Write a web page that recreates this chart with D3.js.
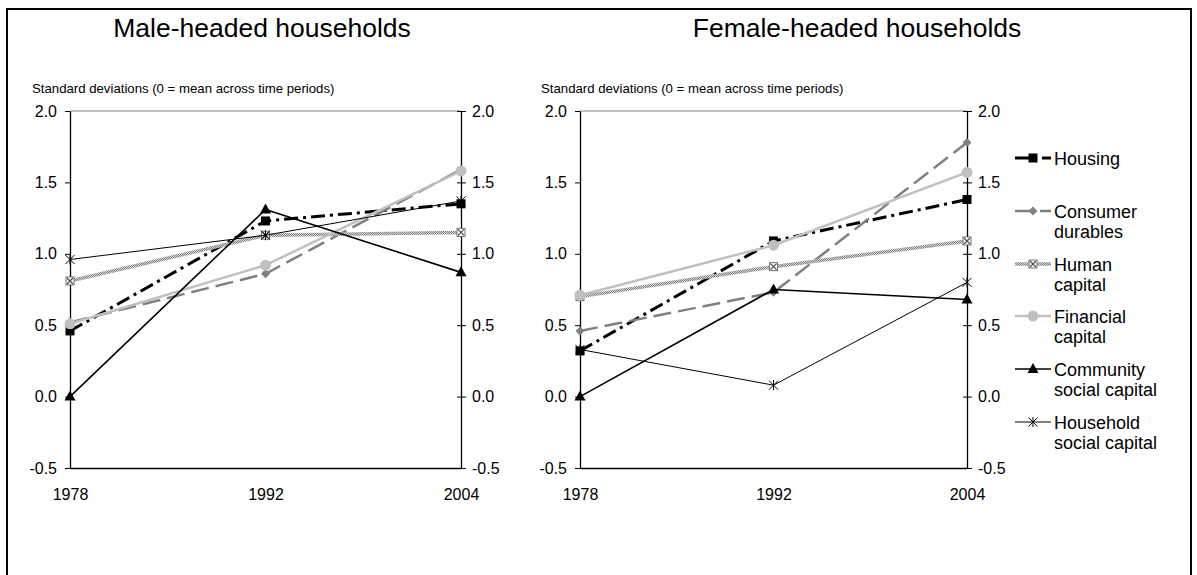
<!DOCTYPE html>
<html>
<head>
<meta charset="utf-8">
<script src="https://cdn.jsdelivr.net/npm/d3@7"></script>
<style>
  html, body { margin: 0; padding: 0; background: #fff; }
  svg { display: block; font-family: "Liberation Sans", Arial, sans-serif; }
</style>
</head>
<body>
<svg id="chart" width="1197" height="575"></svg>
<script>
// ---------------- data ----------------
const years = ["1978", "1992", "2004"];
const yTicks = [-0.5, 0.0, 0.5, 1.0, 1.5, 2.0];
const seriesNames = ["Housing", "Consumer durables", "Human capital", "Financial capital",
  "Community social capital", "Household social capital"];
const legendLabels = [["Housing"], ["Consumer", "durables"], ["Human", "capital"],
  ["Financial", "capital"], ["Community", "social capital"], ["Household", "social capital"]];
const panelTitles = ["Male-headed households", "Female-headed households"];
const yAxisTitle = "Standard deviations (0 = mean across time periods)";

// Male-headed households
const maleHousing   = [0.46, 1.23, 1.35];
const maleConsumer  = [0.52, 0.86, 1.59];
const maleHuman     = [0.81, 1.13, 1.15];
const maleFinancial = [0.51, 0.92, 1.58];
const maleCommunity = [0.00, 1.31, 0.87];
const maleHousehold = [0.96, 1.13, 1.37];

// Female-headed households
const femaleHousing   = [0.32, 1.09, 1.38];
const femaleConsumer  = [0.46, 0.73, 1.78];
const femaleHuman     = [0.70, 0.91, 1.09];
const femaleFinancial = [0.71, 1.06, 1.57];
const femaleCommunity = [0.00, 0.75, 0.68];
const femaleHousehold = [0.33, 0.08, 0.80];

const maleSeries = [maleHousing, maleConsumer, maleHuman, maleFinancial, maleCommunity, maleHousehold];
const femaleSeries = [femaleHousing, femaleConsumer, femaleHuman, femaleFinancial, femaleCommunity, femaleHousehold];

// ---------------- styles ----------------
const styles = [
  { stroke: "#000", width: 3, dash: "14,5,3,5", marker: "square" },
  { stroke: "#808080", width: 2.5, dash: "18,7", marker: "diamond" },
  { stroke: "url(#checker)", width: 3.5, dash: null, marker: "xsquare" },
  { stroke: "#c0c0c0", width: 2.5, dash: null, marker: "circle" },
  { stroke: "#000", width: 1.6, dash: null, marker: "triangle" },
  { stroke: "#000", width: 1, dash: null, marker: "asterisk" }
];

const svg = d3.select("#chart");
const FONT = "'Liberation Sans', Arial, sans-serif";
const fmt = d => d3.format(".1f")(d).replace("\u2212", "-");

// pattern for human capital line
const defs = svg.append("defs");
const pat = defs.append("pattern").attr("id", "checker")
  .attr("patternUnits", "userSpaceOnUse").attr("width", 2).attr("height", 2);
pat.append("rect").attr("width", 2).attr("height", 2).attr("fill", "#d8d8d8");
pat.append("rect").attr("x", 0).attr("y", 0).attr("width", 1).attr("height", 1).attr("fill", "#808080");
pat.append("rect").attr("x", 1).attr("y", 1).attr("width", 1).attr("height", 1).attr("fill", "#808080");

// outer border
svg.append("rect").attr("x", 7).attr("y", 9).attr("width", 1184).attr("height", 600)
  .attr("fill", "none").attr("stroke", "#000").attr("stroke-width", 2);

const y = d3.scaleLinear().domain([-0.5, 2.0]).range([468, 111]);

function drawMarker(g, type, cx, cy) {
  switch (type) {
    case "square":
      g.append("rect").attr("x", cx - 4.5).attr("y", cy - 4.5).attr("width", 9).attr("height", 9).attr("fill", "#000");
      break;
    case "diamond":
      g.append("path").attr("d", `M${cx},${cy - 4.5}L${cx + 4.5},${cy}L${cx},${cy + 4.5}L${cx - 4.5},${cy}Z`).attr("fill", "#808080");
      break;
    case "xsquare":
      g.append("rect").attr("x", cx - 4).attr("y", cy - 4).attr("width", 8).attr("height", 8)
        .attr("fill", "#fff").attr("stroke", "#707070").attr("stroke-width", 1);
      g.append("path").attr("d", `M${cx - 3},${cy - 3}L${cx + 3},${cy + 3}M${cx + 3},${cy - 3}L${cx - 3},${cy + 3}`)
        .attr("stroke", "#505050").attr("stroke-width", 1.3);
      break;
    case "circle":
      g.append("circle").attr("cx", cx).attr("cy", cy).attr("r", 5.5).attr("fill", "#c0c0c0");
      break;
    case "triangle":
      g.append("path").attr("d", `M${cx},${cy - 6}L${cx + 5.5},${cy + 4}L${cx - 5.5},${cy + 4}Z`).attr("fill", "#000");
      break;
    case "asterisk":
      g.append("path").attr("d", `M${cx - 4.5},${cy - 4.5}L${cx + 4.5},${cy + 4.5}M${cx + 4.5},${cy - 4.5}L${cx - 4.5},${cy + 4.5}M${cx},${cy - 5}L${cx},${cy + 5}`)
        .attr("stroke", "#000").attr("stroke-width", 1).attr("fill", "none");
      break;
  }
}

function drawPanel(x0, x1, title, titleX, subtitleX, seriesList) {
  const x = d3.scalePoint().domain(years).range([x0, x1]);
  const g = svg.append("g");

  // title
  g.append("text").attr("x", titleX).attr("y", 37).attr("text-anchor", "middle")
    .attr("font-size", 26.5).attr("fill", "#000").text(title);
  // axis title
  g.append("text").attr("x", subtitleX).attr("y", 93)
    .attr("font-size", 13.2).attr("fill", "#000").text(yAxisTitle);

  // top frame line (gray)
  g.append("line").attr("x1", x0).attr("x2", x1).attr("y1", y(2.0)).attr("y2", y(2.0))
    .attr("stroke", "#808080").attr("stroke-width", 1);

  // left axis
  const ax = g.append("g").attr("transform", `translate(${x0},0)`)
    .call(d3.axisLeft(y).tickValues(yTicks).tickFormat(fmt).tickSize(5).tickPadding(8).tickSizeOuter(0));
  ax.select(".domain").attr("stroke", "#000").attr("stroke-width", 1.3);
  ax.selectAll("text").attr("font-size", 16).attr("font-family", FONT).attr("fill", "#000");
  ax.selectAll(".tick line").attr("stroke", "#000");

  // right axis with cross ticks
  const ar = g.append("g").attr("transform", `translate(${x1},0)`)
    .call(d3.axisRight(y).tickValues(yTicks).tickFormat(fmt).tickSize(5).tickPadding(6).tickSizeOuter(0));
  ar.select(".domain").attr("stroke", "#000").attr("stroke-width", 1.3);
  ar.selectAll(".tick line").attr("x1", -4).attr("x2", 5).attr("stroke", "#000");
  ar.selectAll("text").attr("font-size", 16).attr("font-family", FONT).attr("fill", "#000");

  // bottom axis
  const ab = g.append("g").attr("transform", `translate(0,${y(-0.5)})`)
    .call(d3.axisBottom(x).tickSize(0).tickPadding(21).tickSizeOuter(0));
  ab.select(".domain").attr("stroke", "#000").attr("stroke-width", 1.3);
  ab.selectAll("text").attr("font-size", 16).attr("font-family", FONT).attr("fill", "#000");

  // series lines
  const line = d3.line().x((d, i) => x(years[i])).y(d => y(d));
  seriesList.forEach((vals, si) => {
    const st = styles[si];
    const sg = g.append("g");
    sg.append("path").attr("d", line(vals)).attr("fill", "none")
      .attr("stroke", st.stroke).attr("stroke-width", st.width)
      .attr("stroke-dasharray", st.dash).attr("stroke-linejoin", "round");
    vals.forEach((v, i) => drawMarker(sg, st.marker, x(years[i]), y(v)));
  });
}

drawPanel(70, 461, panelTitles[0], 262, 32, maleSeries);
drawPanel(580, 967, panelTitles[1], 857, 541, femaleSeries);

// legend
const lg = svg.append("g");
const legendY = [158, 211, 264, 316, 369, 422];
seriesNames.forEach((name, i) => {
  const st = styles[i];
  const ly = legendY[i];
  const row = lg.append("g");
  row.append("line").attr("x1", 1015).attr("x2", 1051).attr("y1", ly).attr("y2", ly)
    .attr("stroke", st.stroke).attr("stroke-width", st.width).attr("stroke-dasharray", st.dash);
  drawMarker(row, st.marker, 1033, ly);
  const t = row.append("text").attr("x", 1054).attr("y", ly + 6.5).attr("font-size", 18).attr("fill", "#000");
  legendLabels[i].forEach((s, k) => {
    t.append("tspan").attr("x", 1054).attr("dy", k === 0 ? 0 : 20).text(s);
  });
});
</script>
</body>
</html>
